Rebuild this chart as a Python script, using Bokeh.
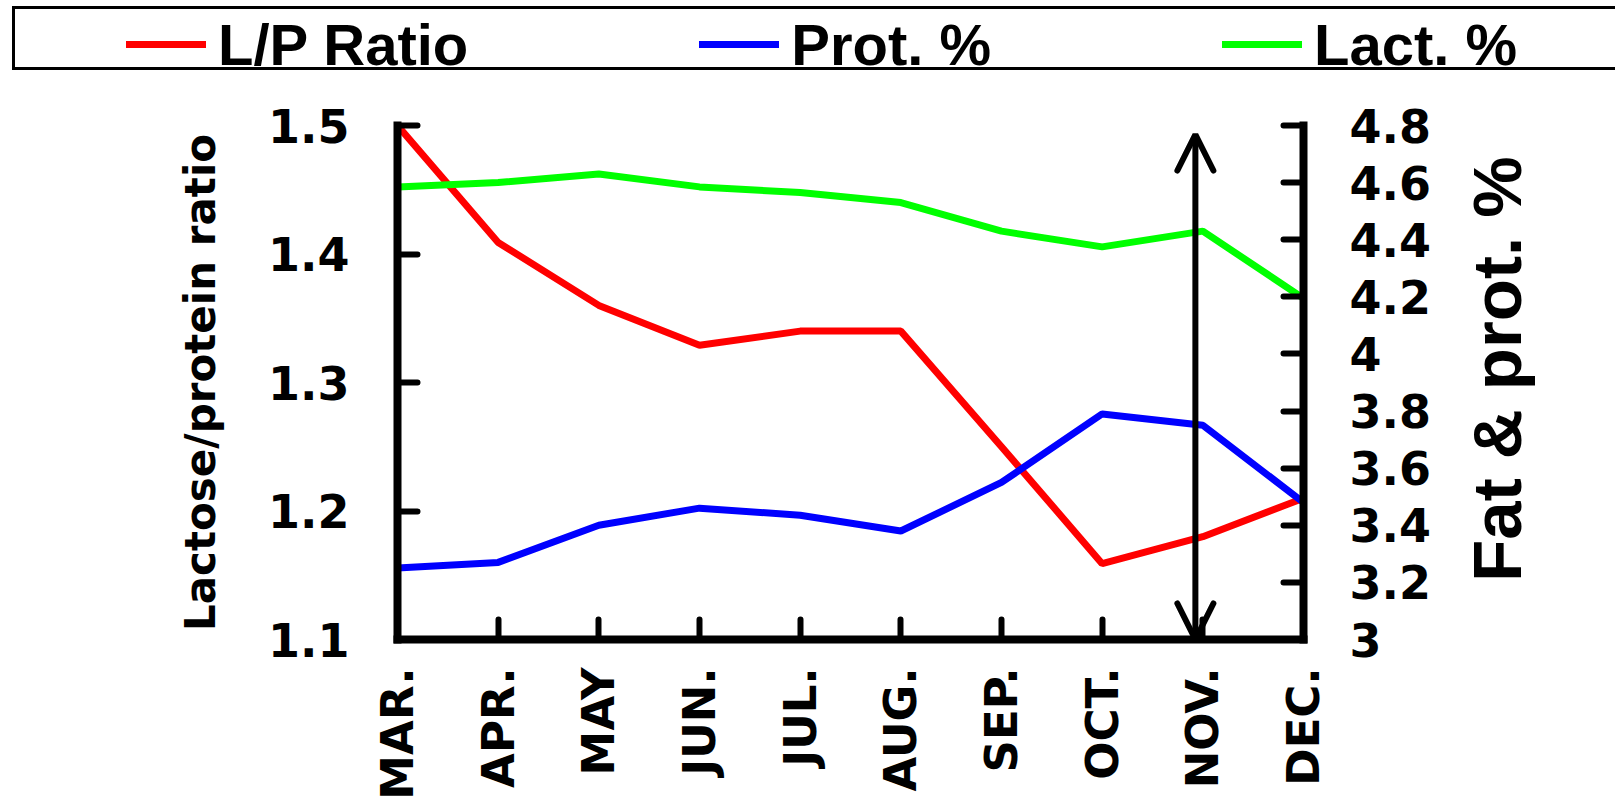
import math
from bokeh.plotting import figure
from bokeh.layouts import column, row
from bokeh.models import (Range1d, LinearAxis, FixedTicker, Legend, LegendItem,
                          Arrow, OpenHead, Label)
from bokeh.embed import file_html
from bokeh.resources import INLINE

# ---------------- data ----------------
months = ["MAR.", "APR.", "MAY", "JUN.", "JUL.", "AUG.", "SEP.", "OCT.", "NOV.", "DEC."]
lp_ratio = [1.50, 1.409, 1.36, 1.329, 1.34, 1.34, 1.25, 1.159, 1.18, 1.21]
prot_pct = [3.25, 3.27, 3.40, 3.46, 3.435, 3.38, 3.55, 3.79, 3.75, 3.48]
lact_pct = [4.585, 4.60, 4.63, 4.585, 4.565, 4.53, 4.43, 4.375, 4.43, 4.195]

left_ticks = [1.1, 1.2, 1.3, 1.4, 1.5]
left_tick_labels = ["1.1", "1.2", "1.3", "1.4", "1.5"]
right_ticks = [3.0, 3.2, 3.4, 3.6, 3.8, 4.0, 4.2, 4.4, 4.6, 4.8]
right_tick_labels = ["3", "3.2", "3.4", "3.6", "3.8", "4", "4.2", "4.4", "4.6", "4.8"]

series_names = ["L/P Ratio", "Prot. %", "Lact. %"]
series_colors = ["#FF0000", "#0000FF", "#00FF00"]

left_title = "Lactose/protein ratio"
right_title = "Fat & prot.  %"

# double-headed marker arrow near NOV.
arrow_month_pos = 7.926
arrow_top = 1.493
arrow_bottom = 1.1

FONT = "Liberation Sans"
TICK_FONT = "DejaVu Sans"
LINE_W = 7
x_idx = list(range(len(months)))

# ---------------- main chart ----------------
p = figure(width=1453, height=722,
           x_range=Range1d(0, len(months) - 1), y_range=Range1d(1.1, 1.5),
           output_backend="svg", toolbar_location=None,
           min_border_left=397, min_border_right=150,
           min_border_top=45, min_border_bottom=161,
           outline_line_color=None, background_fill_color="white",
           border_fill_color="white", frame_align=False)
p.extra_y_ranges = {"right": Range1d(3.0, 4.8)}
p.xgrid.visible = False
p.ygrid.visible = False


def style_axis(ax):
    ax.axis_line_width = 8
    ax.axis_line_color = "black"
    ax.axis_line_cap = "square"
    ax.major_tick_line_width = 6
    ax.major_tick_line_color = "black"
    ax.major_tick_line_cap = "round"
    ax.major_tick_in = 20
    ax.major_tick_out = 0
    ax.minor_tick_line_color = None
    ax.major_label_text_font = TICK_FONT
    ax.major_label_text_font_style = "bold"
    ax.major_label_text_color = "black"
    ax.major_label_text_font_size = "46px"
    ax.axis_label_text_font_style = "bold"
    ax.axis_label_text_color = "black"


xax = p.xaxis[0]
style_axis(xax)
xax.ticker = FixedTicker(ticks=x_idx)
xax.major_label_overrides = {i: m for i, m in zip(x_idx, months)}
xax.major_label_orientation = math.pi / 2
xax.major_label_text_font_size = "45px"
xax.major_label_standoff = 28

yax = p.yaxis[0]
style_axis(yax)
yax.ticker = FixedTicker(ticks=left_ticks)
yax.major_label_overrides = {v: s for v, s in zip(left_ticks, left_tick_labels)}
yax.major_label_standoff = 48
yax.axis_label = left_title
yax.axis_label_text_font = TICK_FONT
yax.axis_label_text_font_size = "42px"
yax.axis_label_standoff = 40

rax = LinearAxis(y_range_name="right", ticker=FixedTicker(ticks=right_ticks))
style_axis(rax)
rax.major_label_overrides = {v: s for v, s in zip(right_ticks, right_tick_labels)}
rax.major_label_standoff = 46
p.add_layout(rax, "right")

r_lp = p.line(x_idx, lp_ratio, line_color=series_colors[0], line_width=LINE_W, line_cap="round")
r_prot = p.line(x_idx, prot_pct, line_color=series_colors[1], line_width=LINE_W, line_cap="round",
                y_range_name="right")
r_lact = p.line(x_idx, lact_pct, line_color=series_colors[2], line_width=LINE_W, line_cap="round",
                y_range_name="right")

p.add_layout(Arrow(start=OpenHead(size=36, line_width=6, line_color="black", line_cap="round"),
                   end=OpenHead(size=36, line_width=6, line_color="black", line_cap="round"),
                   x_start=arrow_month_pos, y_start=arrow_bottom,
                   x_end=arrow_month_pos, y_end=arrow_top,
                   line_width=6, line_color="black"))

# ---------------- right-hand title (reads bottom to top) ----------------
lab = figure(width=162, height=722, x_axis_type=None, y_axis_type=None,
             output_backend="svg", toolbar_location=None,
             min_border_left=0, min_border_right=0, min_border_top=0, min_border_bottom=0,
             outline_line_color=None, frame_align=False)
lab.add_layout(Label(x=44, y=443, x_units="screen", y_units="screen",
                     text=right_title, angle=math.pi / 2,
                     text_align="center", text_baseline="middle",
                     text_font=FONT, text_font_style="bold", text_font_size="69px",
                     text_color="black"))

# ---------------- legend strip ----------------
top = figure(width=1615, height=80, x_range=Range1d(0, 1), y_range=Range1d(0, 1),
             x_axis_type=None, y_axis_type=None,
             output_backend="svg", toolbar_location=None,
             min_border_left=0, min_border_right=0, min_border_top=0, min_border_bottom=0,
             outline_line_color=None, frame_align=False)
nan = float("nan")
proxies = [top.line(x=[nan], y=[nan], line_color=c, line_width=LINE_W, line_cap="round")
           for c in series_colors]
box_proxy = top.line(x=[nan], y=[nan], line_alpha=0)

legend_box = Legend(items=[LegendItem(label=" ", renderers=[box_proxy])],
                    location=(12, 10), orientation="horizontal",
                    padding=0, margin=0, glyph_width=1800, glyph_height=58,
                    label_standoff=0, label_width=0, label_height=0,
                    label_text_font_size="1px",
                    border_line_color="black", border_line_width=3, border_line_alpha=1,
                    background_fill_alpha=0)
top.add_layout(legend_box)

legend = Legend(items=[LegendItem(label=n, renderers=[r]) for n, r in zip(series_names, proxies)],
                location=(126, 2.5), orientation="horizontal",
                padding=0, margin=0, spacing=231,
                glyph_width=80, glyph_height=20, label_standoff=12,
                label_text_font=FONT, label_text_font_style="bold",
                label_text_font_size="58px", label_text_color="black",
                border_line_alpha=0, background_fill_alpha=0)
top.add_layout(legend)

layout = column(top, row(p, lab))
open("out.html", "w").write(file_html(layout, INLINE))
